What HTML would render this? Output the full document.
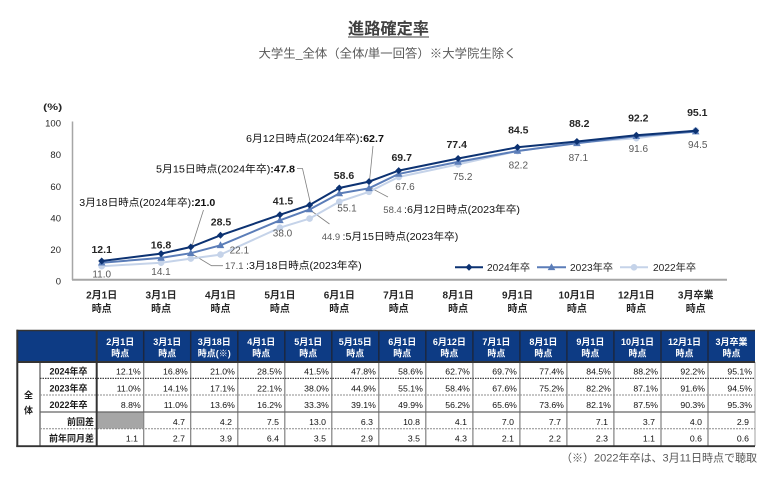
<!DOCTYPE html>
<html><head><meta charset="utf-8">
<style>
html,body{margin:0;padding:0;background:#fff;}
svg{display:block;font-family:"Liberation Sans","Noto Sans CJK JP",sans-serif;}
</style></head><body>
<svg width="770" height="477" viewBox="0 0 770 477" xmlns="http://www.w3.org/2000/svg">
<rect x="0" y="0" width="770" height="477" fill="#ffffff"/>

<!-- Title -->
<text x="388.5" y="34" text-anchor="middle" font-size="16" font-weight="bold" fill="#404040" textLength="81" lengthAdjust="spacingAndGlyphs">進路確定率</text>
<line x1="348" y1="37" x2="429" y2="37" stroke="#404040" stroke-width="1"/>
<text x="387.5" y="57.5" text-anchor="middle" font-size="12" fill="#595959" textLength="258" lengthAdjust="spacingAndGlyphs">大学生_全体（全体/単一回答）※大学院生除く</text>

<!-- Y axis labels -->
<g font-size="9.5" fill="#262626" text-anchor="end">
<text x="61" y="126.5">100</text>
<text x="61" y="158">80</text>
<text x="61" y="190">60</text>
<text x="61" y="221.5">40</text>
<text x="61" y="253">20</text>
<text x="61" y="284.5">0</text>
</g>
<text x="52.7" y="110" text-anchor="middle" font-size="9" font-weight="bold" fill="#262626" textLength="19" lengthAdjust="spacingAndGlyphs">(%)</text>

<!-- Axes -->
<line x1="72.5" y1="121.5" x2="72.5" y2="280" stroke="#a6a6a6" stroke-width="1.5"/>
<line x1="72" y1="279.8" x2="727" y2="279.8" stroke="#a6a6a6" stroke-width="2"/>

<!-- X labels -->
<g font-size="10" font-weight="bold" fill="#262626" text-anchor="middle">
<text x="101.7" y="298.5">2月1日</text><text x="101.7" y="312">時点</text>
<text x="161.1" y="298.5">3月1日</text><text x="161.1" y="312">時点</text>
<text x="220.5" y="298.5">4月1日</text><text x="220.5" y="312">時点</text>
<text x="279.9" y="298.5">5月1日</text><text x="279.9" y="312">時点</text>
<text x="339.3" y="298.5">6月1日</text><text x="339.3" y="312">時点</text>
<text x="398.7" y="298.5">7月1日</text><text x="398.7" y="312">時点</text>
<text x="458.1" y="298.5">8月1日</text><text x="458.1" y="312">時点</text>
<text x="517.5" y="298.5">9月1日</text><text x="517.5" y="312">時点</text>
<text x="576.9" y="298.5">10月1日</text><text x="576.9" y="312">時点</text>
<text x="636.3" y="298.5">12月1日</text><text x="636.3" y="312">時点</text>
<text x="695.7" y="298.5">3月卒業</text><text x="695.7" y="312">時点</text>
</g>

<!-- Leader lines -->
<g stroke="#808080" stroke-width="0.8" fill="none">
<polyline points="203.5,210 192,246"/>
<polyline points="193,254.5 211.5,265.7 223,265.7"/>
<polyline points="297,168.5 302.5,168.5 310.5,203.5"/>
<polyline points="311.5,211 329.5,224"/>
<polyline points="373,146 369.5,181"/>
<polyline points="370,187.5 388,197"/>
</g>

<!-- 2022 series -->
<polyline fill="none" stroke="#c5d3e9" stroke-width="2" points="101.7,266.2 161.1,262.7 190.8,258.6 220.5,254.6 279.9,227.7 309.6,218.6 339.3,201.7 369,191.8 398.7,177 458.1,164.4 517.5,151.1 576.9,142.6 636.3,138.2 695.7,130.4"/>
<g fill="#c5d3e9">
<circle cx="101.7" cy="266.2" r="3.3"/><circle cx="161.1" cy="262.7" r="3.3"/><circle cx="190.8" cy="258.6" r="3.3"/><circle cx="220.5" cy="254.6" r="3.3"/><circle cx="279.9" cy="227.7" r="3.3"/><circle cx="309.6" cy="218.6" r="3.3"/><circle cx="339.3" cy="201.7" r="3.3"/><circle cx="369" cy="191.8" r="3.3"/><circle cx="398.7" cy="177" r="3.3"/><circle cx="458.1" cy="164.4" r="3.3"/><circle cx="517.5" cy="151.1" r="3.3"/><circle cx="576.9" cy="142.6" r="3.3"/><circle cx="636.3" cy="138.2" r="3.3"/><circle cx="695.7" cy="130.4" r="3.3"/>
</g>

<!-- 2023 series -->
<polyline fill="none" stroke="#5b7db8" stroke-width="2" points="101.7,262.7 161.1,257.9 190.8,253.2 220.5,245.3 279.9,220.3 309.6,209.5 339.3,193.5 369,188.3 398.7,173.9 458.1,161.9 517.5,151 576.9,143.3 636.3,136.2 695.7,131.6"/>
<path fill="#5b7db8" d="M101.7 258.7l3.8 6.8h-7.6z M161.1 253.9l3.8 6.8h-7.6z M190.8 249.2l3.8 6.8h-7.6z M220.5 241.3l3.8 6.8h-7.6z M279.9 216.3l3.8 6.8h-7.6z M309.6 205.5l3.8 6.8h-7.6z M339.3 189.5l3.8 6.8h-7.6z M369 184.3l3.8 6.8h-7.6z M398.7 169.9l3.8 6.8h-7.6z M458.1 157.9l3.8 6.8h-7.6z M517.5 147l3.8 6.8h-7.6z M576.9 139.3l3.8 6.8h-7.6z M636.3 132.2l3.8 6.8h-7.6z M695.7 127.6l3.8 6.8h-7.6z"/>

<!-- 2024 series -->
<polyline fill="none" stroke="#0c3272" stroke-width="2" points="101.7,261 161.1,253.6 190.8,247 220.5,235.3 279.9,214.8 309.6,205 339.3,188 369,181.6 398.7,170.6 458.1,158.5 517.5,147.3 576.9,141.5 636.3,135.2 695.7,130.7"/>
<path fill="#0c3272" d="M101.7 257.5l3.5 3.5-3.5 3.5-3.5-3.5z M161.1 250.1l3.5 3.5-3.5 3.5-3.5-3.5z M190.8 243.5l3.5 3.5-3.5 3.5-3.5-3.5z M220.5 231.8l3.5 3.5-3.5 3.5-3.5-3.5z M279.9 211.3l3.5 3.5-3.5 3.5-3.5-3.5z M309.6 201.5l3.5 3.5-3.5 3.5-3.5-3.5z M339.3 184.5l3.5 3.5-3.5 3.5-3.5-3.5z M369 178.1l3.5 3.5-3.5 3.5-3.5-3.5z M398.7 167.1l3.5 3.5-3.5 3.5-3.5-3.5z M458.1 155l3.5 3.5-3.5 3.5-3.5-3.5z M517.5 143.8l3.5 3.5-3.5 3.5-3.5-3.5z M576.9 138l3.5 3.5-3.5 3.5-3.5-3.5z M636.3 131.7l3.5 3.5-3.5 3.5-3.5-3.5z M695.7 127.2l3.5 3.5-3.5 3.5-3.5-3.5z"/>

<!-- 2024 data labels -->
<g font-size="10.5" font-weight="bold" fill="#262626" text-anchor="middle">
<text x="101.7" y="253">12.1</text>
<text x="161" y="248.4">16.8</text>
<text x="221" y="225.4">28.5</text>
<text x="283" y="204.7">41.5</text>
<text x="344" y="179.2">58.6</text>
<text x="401.7" y="161">69.7</text>
<text x="456.7" y="148">77.4</text>
<text x="518.3" y="133.7">84.5</text>
<text x="579.3" y="127">88.2</text>
<text x="638.3" y="121.4">92.2</text>
<text x="697.3" y="116">95.1</text>
</g>

<!-- 2023 data labels -->
<g font-size="10" fill="#595959" text-anchor="middle">
<text x="101.7" y="277.5">11.0</text>
<text x="161" y="275.2">14.1</text>
<text x="239.3" y="253.5">22.1</text>
<text x="282.5" y="236.7">38.0</text>
<text x="347" y="211.5">55.1</text>
<text x="405" y="190.2">67.6</text>
<text x="462.7" y="180.2">75.2</text>
<text x="518.3" y="168.5">82.2</text>
<text x="578.3" y="161.2">87.1</text>
<text x="638.3" y="151.8">91.6</text>
<text x="697.7" y="147.8">94.5</text>
</g>

<!-- Annotations 2024 -->
<g font-size="10" fill="#111111">
<text x="79.3" y="206" textLength="136" lengthAdjust="spacingAndGlyphs">3月18日時点(2024年卒)<tspan font-weight="bold">:21.0</tspan></text>
<text x="156" y="172.5" textLength="139" lengthAdjust="spacingAndGlyphs">5月15日時点(2024年卒)<tspan font-weight="bold">:47.8</tspan></text>
<text x="246" y="142" textLength="138" lengthAdjust="spacingAndGlyphs">6月12日時点(2024年卒)<tspan font-weight="bold">:62.7</tspan></text>
</g>
<!-- Annotations 2023 -->
<g font-size="10">
<text x="225" y="269" fill="#595959" font-size="9.5">17.1</text>
<text x="246" y="269" fill="#111111" textLength="115.7" lengthAdjust="spacingAndGlyphs">:3月18日時点(2023年卒)</text>
<text x="321.7" y="240" fill="#595959" font-size="9.5">44.9</text>
<text x="342.5" y="240" fill="#111111" textLength="115.8" lengthAdjust="spacingAndGlyphs">:5月15日時点(2023年卒)</text>
<text x="383.3" y="213" fill="#595959" font-size="9.5">58.4</text>
<text x="404" y="213" fill="#111111" textLength="116" lengthAdjust="spacingAndGlyphs">:6月12日時点(2023年卒)</text>
</g>

<!-- Legend -->
<line x1="455" y1="267.3" x2="483" y2="267.3" stroke="#0c3272" stroke-width="2"/>
<path fill="#0c3272" d="M469 263.8l3.5 3.5-3.5 3.5-3.5-3.5z"/>
<text x="487" y="271" font-size="10" fill="#262626" textLength="43" lengthAdjust="spacingAndGlyphs">2024年卒</text>
<line x1="537" y1="267.3" x2="566" y2="267.3" stroke="#5b7db8" stroke-width="2"/>
<path fill="#5b7db8" d="M551.5 263.3l3.8 6.8h-7.6z"/>
<text x="570" y="271" font-size="10" fill="#262626" textLength="43" lengthAdjust="spacingAndGlyphs">2023年卒</text>
<line x1="620" y1="267.3" x2="648" y2="267.3" stroke="#c5d3e9" stroke-width="2"/>
<circle cx="634" cy="267.3" r="3.3" fill="#c5d3e9"/>
<text x="653" y="271" font-size="10" fill="#262626" textLength="43" lengthAdjust="spacingAndGlyphs">2022年卒</text>

<!-- ============ TABLE ============ -->
<rect x="17.3" y="330" width="737.7" height="31.7" fill="#0d3b84"/>
<!-- gray cell -->
<rect x="97.7" y="412.3" width="45.5" height="16.3" fill="#a6a6a6"/>

<!-- header separators -->
<g stroke="#1c2740" stroke-width="1.5">
<line x1="143.7" y1="330" x2="143.7" y2="361.7"/>
<line x1="190.7" y1="330" x2="190.7" y2="361.7"/>
<line x1="237.8" y1="330" x2="237.8" y2="361.7"/>
<line x1="284.8" y1="330" x2="284.8" y2="361.7"/>
<line x1="331.8" y1="330" x2="331.8" y2="361.7"/>
<line x1="378.8" y1="330" x2="378.8" y2="361.7"/>
<line x1="425.8" y1="330" x2="425.8" y2="361.7"/>
<line x1="472.9" y1="330" x2="472.9" y2="361.7"/>
<line x1="519.9" y1="330" x2="519.9" y2="361.7"/>
<line x1="566.9" y1="330" x2="566.9" y2="361.7"/>
<line x1="613.9" y1="330" x2="613.9" y2="361.7"/>
<line x1="661" y1="330" x2="661" y2="361.7"/>
<line x1="708" y1="330" x2="708" y2="361.7"/>
</g>
<!-- data vertical separators -->
<g stroke="#808080" stroke-width="1.2">
<line x1="143.7" y1="362" x2="143.7" y2="446"/>
<line x1="190.7" y1="362" x2="190.7" y2="446"/>
<line x1="237.8" y1="362" x2="237.8" y2="446"/>
<line x1="284.8" y1="362" x2="284.8" y2="446"/>
<line x1="331.8" y1="362" x2="331.8" y2="446"/>
<line x1="378.8" y1="362" x2="378.8" y2="446"/>
<line x1="425.8" y1="362" x2="425.8" y2="446"/>
<line x1="472.9" y1="362" x2="472.9" y2="446"/>
<line x1="519.9" y1="362" x2="519.9" y2="446"/>
<line x1="566.9" y1="362" x2="566.9" y2="446"/>
<line x1="613.9" y1="362" x2="613.9" y2="446"/>
<line x1="661" y1="362" x2="661" y2="446"/>
<line x1="708" y1="362" x2="708" y2="446"/>
<line x1="755" y1="362" x2="755" y2="446" stroke="#b0b0b0"/>
<line x1="40" y1="362" x2="40" y2="446" stroke="#555555"/>
</g>
<!-- row lines -->
<line x1="40" y1="378.4" x2="755" y2="378.4" stroke="#404040" stroke-width="1.2" stroke-dasharray="1.5 1"/>
<line x1="40" y1="395" x2="755" y2="395" stroke="#8c8c8c" stroke-width="1" stroke-dasharray="2 1"/>
<line x1="40" y1="412" x2="755" y2="412" stroke="#666666" stroke-width="1.2"/>
<line x1="40" y1="428.8" x2="755" y2="428.8" stroke="#8c8c8c" stroke-width="1" stroke-dasharray="2 1"/>
<!-- outer/thick borders -->
<line x1="16.5" y1="330.5" x2="755" y2="330.5" stroke="#333333" stroke-width="1.5"/>
<line x1="17.3" y1="362" x2="755" y2="362" stroke="#333333" stroke-width="2"/>
<line x1="17.3" y1="329.8" x2="17.3" y2="447" stroke="#333333" stroke-width="2"/>
<line x1="96.7" y1="330" x2="96.7" y2="447" stroke="#333333" stroke-width="2"/>
<line x1="16.3" y1="446.2" x2="755" y2="446.2" stroke="#333333" stroke-width="1.8"/>

<!-- header text -->
<g font-size="9" font-weight="bold" fill="#ffffff" text-anchor="middle">
<text x="120.2" y="345">2月1日</text><text x="120.2" y="356.5">時点</text>
<text x="167.2" y="345">3月1日</text><text x="167.2" y="356.5">時点</text>
<text x="214.3" y="345">3月18日</text><text x="214.3" y="356.5">時点(※)</text>
<text x="261.3" y="345">4月1日</text><text x="261.3" y="356.5">時点</text>
<text x="308.3" y="345">5月1日</text><text x="308.3" y="356.5">時点</text>
<text x="355.3" y="345">5月15日</text><text x="355.3" y="356.5">時点</text>
<text x="402.3" y="345">6月1日</text><text x="402.3" y="356.5">時点</text>
<text x="449.4" y="345">6月12日</text><text x="449.4" y="356.5">時点</text>
<text x="496.4" y="345">7月1日</text><text x="496.4" y="356.5">時点</text>
<text x="543.4" y="345">8月1日</text><text x="543.4" y="356.5">時点</text>
<text x="590.4" y="345">9月1日</text><text x="590.4" y="356.5">時点</text>
<text x="637.5" y="345">10月1日</text><text x="637.5" y="356.5">時点</text>
<text x="684.5" y="345">12月1日</text><text x="684.5" y="356.5">時点</text>
<text x="731.5" y="345">3月卒業</text><text x="731.5" y="356.5">時点</text>
</g>

<!-- row labels -->
<g font-size="9" fill="#1a1a1a" font-weight="bold">
<text x="28.5" y="398.5" text-anchor="middle">全</text>
<text x="28.5" y="413.5" text-anchor="middle">体</text>
<text x="68.5" y="374.3" text-anchor="middle">2024年卒</text>
<text x="68.5" y="391.3" text-anchor="middle">2023年卒</text>
<text x="68.5" y="407.8" text-anchor="middle">2022年卒</text>
<text x="94" y="424.8" text-anchor="end">前回差</text>
<text x="94" y="441.6" text-anchor="end">前年同月差</text>
</g>

<!-- data values -->
<g font-size="8.7" fill="#111111" text-anchor="end">
<!-- 2024 -->
<text x="140.7" y="374.3">12.1%</text><text x="187.7" y="374.3">16.8%</text><text x="234.8" y="374.3">21.0%</text><text x="281.8" y="374.3">28.5%</text><text x="328.8" y="374.3">41.5%</text><text x="375.8" y="374.3">47.8%</text><text x="422.8" y="374.3">58.6%</text><text x="469.9" y="374.3">62.7%</text><text x="516.9" y="374.3">69.7%</text><text x="563.9" y="374.3">77.4%</text><text x="610.9" y="374.3">84.5%</text><text x="658" y="374.3">88.2%</text><text x="705" y="374.3">92.2%</text><text x="752" y="374.3">95.1%</text>
<!-- 2023 -->
<text x="140.7" y="391.3">11.0%</text><text x="187.7" y="391.3">14.1%</text><text x="234.8" y="391.3">17.1%</text><text x="281.8" y="391.3">22.1%</text><text x="328.8" y="391.3">38.0%</text><text x="375.8" y="391.3">44.9%</text><text x="422.8" y="391.3">55.1%</text><text x="469.9" y="391.3">58.4%</text><text x="516.9" y="391.3">67.6%</text><text x="563.9" y="391.3">75.2%</text><text x="610.9" y="391.3">82.2%</text><text x="658" y="391.3">87.1%</text><text x="705" y="391.3">91.6%</text><text x="752" y="391.3">94.5%</text>
<!-- 2022 -->
<text x="140.7" y="407.8">8.8%</text><text x="187.7" y="407.8">11.0%</text><text x="234.8" y="407.8">13.6%</text><text x="281.8" y="407.8">16.2%</text><text x="328.8" y="407.8">33.3%</text><text x="375.8" y="407.8">39.1%</text><text x="422.8" y="407.8">49.9%</text><text x="469.9" y="407.8">56.2%</text><text x="516.9" y="407.8">65.6%</text><text x="563.9" y="407.8">73.6%</text><text x="610.9" y="407.8">82.1%</text><text x="658" y="407.8">87.5%</text><text x="705" y="407.8">90.3%</text><text x="752" y="407.8">95.3%</text>
<!-- 前回差 -->
<text x="185" y="424.8">4.7</text><text x="232" y="424.8">4.2</text><text x="279" y="424.8">7.5</text><text x="326" y="424.8">13.0</text><text x="373" y="424.8">6.3</text><text x="420" y="424.8">10.8</text><text x="467" y="424.8">4.1</text><text x="514" y="424.8">7.0</text><text x="561" y="424.8">7.7</text><text x="608" y="424.8">7.1</text><text x="655" y="424.8">3.7</text><text x="702" y="424.8">4.0</text><text x="749" y="424.8">2.9</text>
<!-- 前年同月差 -->
<text x="138" y="441.6">1.1</text><text x="185" y="441.6">2.7</text><text x="232" y="441.6">3.9</text><text x="279" y="441.6">6.4</text><text x="326" y="441.6">3.5</text><text x="373" y="441.6">2.9</text><text x="420" y="441.6">3.5</text><text x="467" y="441.6">4.3</text><text x="514" y="441.6">2.1</text><text x="561" y="441.6">2.2</text><text x="608" y="441.6">2.3</text><text x="655" y="441.6">1.1</text><text x="702" y="441.6">0.6</text><text x="749" y="441.6">0.6</text>
</g>

<!-- footnote -->
<text x="757" y="461.5" text-anchor="end" font-size="11" fill="#595959">（※）2022年卒は、3月11日時点で聴取</text>
</svg>
</body></html>
